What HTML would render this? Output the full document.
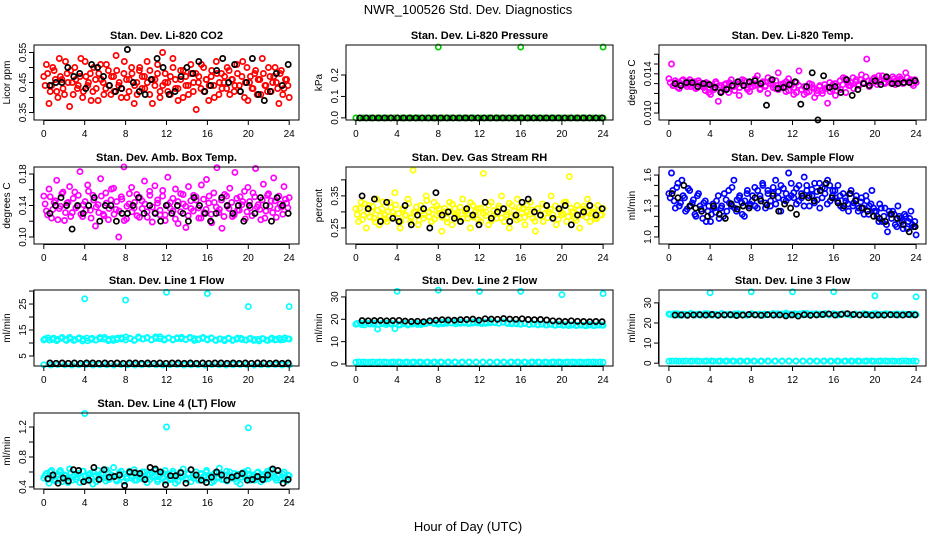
<!DOCTYPE html>
<html><head><meta charset="utf-8"><style>
html,body{margin:0;padding:0;background:#fff;}
svg{display:block;font-family:"Liberation Sans",Arial,sans-serif;}
</style></head><body>
<svg id="chart" width="936" height="540" viewBox="0 0 936 540">
<text x="468" y="14" font-size="13" text-anchor="middle">NWR_100526 Std. Dev. Diagnostics</text>
<text x="468" y="531" font-size="13" text-anchor="middle">Hour of Day (UTC)</text>
</svg>
<script>
// ---- data ----
const xTicks=[0,4,8,12,16,20,24];
const outHours=[4,8,12,16,20,24];

const co2Color=[0.47,0.51,0.38,0.44,0.49,0.42,0.53,0.46,0.41,0.48,0.37,0.45,0.50,0.43,0.47,0.40,0.52,0.44,0.48,0.42,0.46,0.39,0.51,0.45,0.43,0.49,0.41,0.47,0.54,0.44,0.40,0.48,0.46,0.42,0.50,0.38,0.45,0.49,0.43,0.47,0.52,0.41,0.46,0.44,0.48,0.40,0.55,0.45,0.42,0.47,0.50,0.43,0.39,0.46,0.49,0.44,0.41,0.48,0.45,0.36,0.47,0.51,0.42,0.46,0.44,0.49,0.40,0.48,0.45,0.43,0.47,0.50,0.41,0.46,0.44,0.48,0.42,0.52,0.45,0.39,0.47,0.43,0.49,0.46,0.41,0.48,0.44,0.50,0.42,0.47,0.45,0.38,0.49,0.43,0.46,0.40];
const co2ColorB=[0.44,0.48,0.42,0.50,0.46,0.40,0.47,0.43,0.52,0.45,0.49,0.41,0.46,0.44,0.53,0.42,0.47,0.45,0.39,0.50,0.43,0.48,0.46,0.41,0.51,0.44,0.47,0.42,0.49,0.45,0.43,0.52,0.40,0.46,0.48,0.44,0.41,0.50,0.47,0.43,0.45,0.49,0.38,0.46,0.51,0.42,0.44,0.48,0.45,0.41,0.53,0.46,0.43,0.49,0.40,0.47,0.44,0.51,0.42,0.48,0.45,0.43,0.50,0.46,0.39,0.47,0.44,0.52,0.41,0.48,0.45,0.43,0.49,0.46,0.42,0.51,0.44,0.47,0.40,0.50,0.45,0.43,0.48,0.41,0.46,0.53,0.44,0.42,0.47,0.45,0.50,0.43,0.48,0.41,0.46,0.44];
const co2Black=[0.44,0.45,0.45,0.50,0.47,0.48,0.43,0.51,0.50,0.47,0.44,0.42,0.43,0.56,0.45,0.42,0.41,0.46,0.53,0.50,0.41,0.42,0.47,0.50,0.48,0.52,0.42,0.44,0.49,0.53,0.45,0.51,0.42,0.45,0.53,0.41,0.39,0.42,0.48,0.44,0.51];

const presColor=[0,0,0,0,0,0,0,0,0,0,0,0,0,0,0,0,0,0,0,0,0,0,0,0,0,0,0,0,0,0,0,0,0,0,0,0,0,0,0,0,0,0,0,0,0,0,0,0,0,0,0,0,0,0,0,0,0,0,0,0,0,0,0,0,0,0,0,0,0,0,0,0];
const presBlack=[0,0,0,0,0,0,0,0,0,0,0,0,0,0,0,0,0,0,0,0,0,0,0,0,0,0,0,0,0,0,0,0,0,0,0,0,0,0,0,0];
const presOutHours=[8,16,24];
const presOut=[0.33,0.33,0.33];

const tempColor=[0.0135,0.0150,0.0128,0.0131,0.0125,0.0133,0.0130,0.0127,0.0134,0.0129,0.0132,0.0126,0.0131,0.0128,0.0123,0.0130,0.0119,0.0126,0.0132,0.0112,0.0128,0.0124,0.0130,0.0121,0.0134,0.0127,0.0129,0.0118,0.0131,0.0133,0.0126,0.0122,0.0130,0.0128,0.0138,0.0124,0.0131,0.0127,0.0120,0.0133,0.0129,0.0125,0.0141,0.0126,0.0130,0.0122,0.0135,0.0128,0.0119,0.0131,0.0143,0.0124,0.0127,0.0121,0.0130,0.0126,0.0116,0.0123,0.0128,0.0120,0.0125,0.0110,0.0122,0.0129,0.0118,0.0127,0.0124,0.0136,0.0121,0.0128,0.0131,0.0125,0.0134,0.0128,0.0139,0.0130,0.0155,0.0127,0.0133,0.0136,0.0129,0.0132,0.0138,0.0130,0.0134,0.0131,0.0137,0.0129,0.0133,0.0135,0.0130,0.0141,0.0132,0.0134,0.0128,0.0131];
const tempColorB=[0.0131,0.0128,0.0133,0.0126,0.0130,0.0134,0.0129,0.0132,0.0127,0.0131,0.0125,0.0133,0.0129,0.0126,0.0131,0.0121,0.0128,0.0124,0.0130,0.0126,0.0122,0.0129,0.0125,0.0131,0.0127,0.0123,0.0130,0.0126,0.0134,0.0128,0.0124,0.0131,0.0127,0.0135,0.0129,0.0125,0.0132,0.0128,0.0136,0.0130,0.0126,0.0133,0.0124,0.0129,0.0127,0.0132,0.0123,0.0130,0.0126,0.0121,0.0128,0.0124,0.0119,0.0127,0.0122,0.0129,0.0125,0.0120,0.0127,0.0123,0.0129,0.0126,0.0131,0.0124,0.0130,0.0127,0.0133,0.0129,0.0135,0.0131,0.0128,0.0136,0.0132,0.0129,0.0134,0.0131,0.0137,0.0133,0.0130,0.0135,0.0132,0.0138,0.0134,0.0131,0.0136,0.0133,0.0130,0.0135,0.0132,0.0137,0.0134,0.0131,0.0136,0.0133,0.0130,0.0134];
const tempBlack=[0.0130,0.0128,0.0131,0.0131,0.0127,0.0130,0.0129,0.0126,0.0121,0.0124,0.0128,0.0132,0.0128,0.0132,0.0133,0.0130,0.0108,0.0134,0.0125,0.0126,0.0129,0.0132,0.0109,0.0127,0.0141,0.0093,0.0138,0.0126,0.0127,0.0121,0.0134,0.0118,0.0124,0.0130,0.0128,0.0133,0.0129,0.0137,0.0130,0.0130,0.0131,0.0131,0.0133];

const ambColor=[0.152,0.133,0.161,0.124,0.144,0.172,0.136,0.155,0.121,0.143,0.164,0.131,0.157,0.139,0.183,0.126,0.145,0.166,0.134,0.153,0.114,0.141,0.174,0.129,0.156,0.122,0.147,0.162,0.135,0.100,0.151,0.189,0.123,0.142,0.163,0.137,0.154,0.125,0.146,0.171,0.132,0.158,0.119,0.165,0.143,0.128,0.152,0.121,0.176,0.144,0.133,0.161,0.117,0.155,0.142,0.112,0.164,0.136,0.153,0.147,0.124,0.166,0.131,0.173,0.152,0.118,0.144,0.188,0.135,0.111,0.154,0.139,0.162,0.126,0.182,0.134,0.151,0.145,0.123,0.163,0.137,0.156,0.187,0.141,0.122,0.167,0.133,0.155,0.146,0.175,0.125,0.152,0.138,0.164,0.143,0.150];
const ambColorB=[0.142,0.128,0.151,0.135,0.146,0.122,0.139,0.157,0.131,0.144,0.126,0.149,0.137,0.153,0.129,0.141,0.134,0.158,0.124,0.147,0.138,0.131,0.152,0.127,0.143,0.136,0.161,0.129,0.145,0.133,0.148,0.121,0.139,0.155,0.132,0.144,0.127,0.150,0.136,0.142,0.125,0.153,0.138,0.131,0.147,0.134,0.159,0.128,0.141,0.136,0.149,0.123,0.145,0.132,0.154,0.139,0.127,0.146,0.133,0.151,0.137,0.124,0.148,0.135,0.143,0.129,0.156,0.138,0.131,0.147,0.126,0.152,0.136,0.144,0.128,0.149,0.134,0.141,0.158,0.132,0.145,0.127,0.151,0.138,0.135,0.147,0.124,0.153,0.139,0.131,0.146,0.136,0.142,0.129,0.148,0.137];
const ambBlack=[0.13,0.14,0.15,0.14,0.11,0.14,0.13,0.14,0.15,0.12,0.14,0.14,0.12,0.13,0.13,0.14,0.15,0.13,0.14,0.13,0.12,0.14,0.13,0.14,0.13,0.12,0.15,0.14,0.13,0.12,0.13,0.15,0.14,0.13,0.14,0.12,0.14,0.13,0.15,0.14,0.12,0.15,0.14,0.13];

const rhColor=[0.31,0.27,0.33,0.29,0.25,0.32,0.30,0.28,0.34,0.26,0.31,0.29,0.27,0.33,0.30,0.36,0.28,0.25,0.31,0.29,0.34,0.27,0.43,0.30,0.26,0.32,0.28,0.35,0.30,0.27,0.33,0.29,0.31,0.24,0.30,0.28,0.33,0.26,0.31,0.29,0.27,0.34,0.30,0.28,0.25,0.32,0.29,0.31,0.27,0.42,0.30,0.26,0.33,0.29,0.28,0.31,0.35,0.27,0.30,0.25,0.32,0.29,0.34,0.28,0.31,0.26,0.30,0.33,0.28,0.24,0.31,0.29,0.27,0.32,0.30,0.35,0.28,0.26,0.31,0.29,0.33,0.27,0.41,0.30,0.28,0.32,0.25,0.29,0.31,0.34,0.27,0.30,0.28,0.32,0.29,0.31];
const rhColorB=[0.292,0.311,0.276,0.325,0.298,0.284,0.317,0.269,0.305,0.288,0.331,0.279,0.301,0.314,0.286,0.322,0.295,0.271,0.308,0.289,0.326,0.281,0.299,0.315,0.274,0.303,0.292,0.336,0.285,0.307,0.278,0.319,0.296,0.283,0.311,0.268,0.302,0.324,0.287,0.298,0.315,0.279,0.306,0.293,0.329,0.284,0.301,0.276,0.312,0.295,0.288,0.321,0.272,0.304,0.297,0.318,0.281,0.309,0.291,0.327,0.286,0.302,0.275,0.314,0.298,0.283,0.322,0.293,0.306,0.271,0.311,0.289,0.325,0.296,0.282,0.308,0.291,0.319,0.277,0.303,0.294,0.331,0.285,0.312,0.299,0.274,0.307,0.292,0.318,0.283,0.301,0.295,0.313,0.279,0.306,0.291];
const rhBlack=[0.35,0.31,0.34,0.27,0.33,0.28,0.27,0.32,0.26,0.29,0.31,0.25,0.36,0.29,0.30,0.28,0.27,0.31,0.29,0.26,0.33,0.28,0.30,0.31,0.27,0.29,0.33,0.34,0.30,0.29,0.32,0.28,0.31,0.32,0.26,0.29,0.30,0.32,0.29,0.31];

const flowColor=[1.42,1.62,1.35,1.48,1.30,1.55,1.38,1.27,1.45,1.33,1.22,1.40,1.30,1.18,1.35,1.25,1.15,1.32,1.24,1.40,1.28,1.20,1.36,1.45,1.30,1.55,1.25,1.38,1.33,1.20,1.42,1.30,1.35,1.48,1.28,1.40,1.52,1.33,1.45,1.30,1.42,1.55,1.38,1.25,1.47,1.35,1.62,1.40,1.43,1.32,1.50,1.38,1.58,1.45,1.30,1.40,1.52,1.36,1.28,1.48,1.42,1.55,1.35,1.45,1.38,1.50,1.30,1.42,1.35,1.25,1.45,1.33,1.40,1.28,1.38,1.22,1.35,1.30,1.45,1.25,1.20,1.32,1.15,1.28,1.05,1.22,1.25,1.12,1.30,1.18,1.08,1.20,1.15,1.25,1.10,1.02];
const flowColorB=[1.38,1.45,1.28,1.52,1.33,1.40,1.25,1.47,1.30,1.36,1.20,1.42,1.27,1.33,1.15,1.30,1.22,1.28,1.35,1.18,1.30,1.42,1.25,1.33,1.48,1.28,1.36,1.40,1.22,1.35,1.45,1.32,1.40,1.30,1.45,1.37,1.50,1.28,1.42,1.35,1.48,1.32,1.44,1.50,1.36,1.42,1.38,1.52,1.38,1.47,1.35,1.42,1.30,1.50,1.40,1.46,1.33,1.44,1.52,1.38,1.47,1.32,1.50,1.40,1.45,1.35,1.40,1.28,1.38,1.32,1.42,1.30,1.36,1.25,1.34,1.28,1.40,1.22,1.32,1.28,1.25,1.15,1.28,1.20,1.12,1.25,1.18,1.22,1.10,1.20,1.15,1.22,1.08,1.18,1.12,1.15];
const flowBlack=[1.42,1.38,1.50,1.30,1.28,1.25,1.20,1.30,1.22,1.18,1.32,1.27,1.30,1.28,1.38,1.35,1.31,1.40,1.25,1.32,1.28,1.22,1.40,1.38,1.35,1.45,1.52,1.38,1.33,1.30,1.42,1.35,1.28,1.25,1.20,1.18,1.15,1.22,1.18,1.12,1.05,1.10];

const l1Band=[11.2,12.0,11.4,10.9,11.8,11.3,12.2,11.0,11.6,10.8,11.9,11.4,11.1,12.1,11.5,10.9,11.7,11.3,12.0,11.2,11.8,11.0,12.3,11.5,11.9,11.2,12.4,11.6,11.1,12.0,11.4,11.7,12.2,11.3,11.9,11.0,11.6,12.1,11.2,11.8,11.0,11.5,10.9,11.7,11.2,11.9,11.4,11.1,11.8,11.3,10.8,11.6,11.0,11.9,11.4,11.2,12.0,11.5];
const l1BandB=[11.6,11.1,11.9,11.4,12.1,11.0,11.7,11.3,12.0,11.5,10.9,11.8,11.2,11.6,12.2,11.4,11.0,11.9,11.5,12.3,11.7,11.2,11.9,11.6,12.1,11.3,11.8,12.4,11.5,11.9,11.2,12.0,11.6,11.4,12.2,11.7,11.3,11.8,11.5,12.0,11.1,11.6,11.3,11.9,11.0,11.5,11.8,11.2,11.6,11.0,11.4,11.7,11.1,11.5,11.2,11.8,11.3,11.6];
const l1Low=[1.6,1.5,1.7,1.6,1.5,1.6,1.7,1.5,1.6,1.6,1.5,1.7,1.6,1.5,1.6,1.7,1.6,1.5,1.6,1.7,1.5,1.6,1.6,1.5,1.7,1.6,1.5,1.6,1.7,1.6,1.5,1.6,1.6,1.7,1.5,1.6];
const l1Black=[2.3,2.2,2.3,2.2,2.3,2.2,2.3,2.3,2.2,2.3,2.2,2.3,2.2,2.3,2.3,2.2,2.3,2.2,2.3,2.2,2.3,2.3,2.2,2.3,2.2,2.3,2.2,2.3,2.3,2.2,2.3,2.2,2.3,2.2,2.3,2.3,2.2,2.3,2.2,2.3];
const l1Out=[27.0,26.5,29.5,29.0,24.0,24.0];

const l2Band=[17.8,18.4,17.5,18.1,17.9,15.6,18.2,17.6,18.3,15.8,17.7,18.0,17.4,17.9,18.2,17.6,18.0,18.5,18.1,17.8,18.6,18.2,18.4,18.0,18.7,18.3,18.1,18.8,18.4,18.6,18.2,18.9,18.5,18.3,18.7,18.1,18.4,18.0,17.8,18.2,17.6,17.9,17.5,17.8,17.4,17.7,17.3,17.6,17.5,17.2,17.6,17.3,17.4,17.1,17.5,17.2,17.4,17.3];
const l2BandB=[18.2,17.6,18.5,17.9,18.3,17.7,18.0,18.4,17.8,18.1,17.5,18.3,17.9,18.2,17.7,18.4,18.1,18.7,18.3,18.6,18.0,18.8,18.4,18.9,18.2,18.6,18.5,18.3,18.9,18.1,18.7,18.4,18.6,18.2,18.8,18.5,18.0,18.3,17.9,18.1,17.7,18.0,17.6,17.9,17.5,17.8,17.4,17.7,17.3,17.6,17.4,17.2,17.5,17.3,17.6,17.2,17.5,17.4];
const l2Low=[0.8,0.9,0.8,0.8,0.9,0.8,0.9,0.8,0.8,0.9,0.8,0.8,0.9,0.8,0.9,0.8,0.8,0.9,0.8,0.8,0.9,0.8,0.9,0.8,0.8,0.9,0.8,0.8,0.9,0.8,0.9,0.8,0.8,0.9,0.8,0.8];
const l2LowB=[0.9,0.8,0.9,0.9,0.8,0.9,0.8,0.9,0.9,0.8,0.9,0.9,0.8,0.9,0.8,0.9,0.9,0.8,0.9,0.9,0.8,0.9,0.8,0.9,0.9,0.8,0.9,0.9,0.8,0.9,0.8,0.9,0.9,0.8,0.9,0.9];
const l2Black=[19.4,19.3,19.4,19.5,19.3,19.4,19.5,19.2,19.0,19.1,18.9,19.3,19.6,19.8,19.7,19.6,19.8,19.9,20.1,19.6,20.2,20.1,20.0,20.3,20.1,20.0,20.2,19.9,19.8,19.9,19.7,19.3,19.2,19.0,19.3,19.1,19.0,18.9,19.0,18.9];
const l2Out=[32.5,33.0,32.5,32.5,31.0,31.5];

const l3Band=[24.5,24.0,24.6,23.8,24.3,24.7,23.9,24.4,24.1,24.6,23.8,24.2,24.5,23.9,24.4,24.0,24.6,24.2,23.8,24.5,24.1,24.4,23.9,24.3,24.7,24.0,24.5,24.2,23.9,24.6,24.3,24.8,24.1,24.5,24.0,24.4,24.7,24.2,24.5,24.0,24.6,24.3,23.9,24.4,24.1,24.6,24.2,24.5,23.9,24.3,24.6,24.1,24.4,24.0,24.5,24.2,24.4,24.1];
const l3BandB=[24.2,24.6,23.9,24.4,24.0,24.5,24.3,23.8,24.6,24.1,24.4,24.0,24.7,24.2,23.9,24.5,24.1,24.4,24.0,24.6,24.3,23.8,24.5,24.2,24.0,24.6,24.3,24.9,24.4,24.1,24.5,24.0,24.7,24.3,24.6,24.1,24.4,24.0,24.6,24.3,24.2,24.5,24.1,24.4,24.0,24.5,24.3,24.1,24.6,24.2,24.0,24.4,24.2,24.5,24.1,24.3,24.0,24.4];
const l3Low=[1.0,1.1,1.0,1.0,1.1,1.0,1.1,1.0,1.0,1.1,1.0,1.0,1.1,1.0,1.1,1.0,1.0,1.1,1.0,1.0,1.1,1.0,1.1,1.0,1.0,1.1,1.0,1.0,1.1,1.0,1.1,1.0,1.0,1.1,1.0,1.0];
const l3LowB=[1.1,1.0,1.1,1.1,1.0,1.1,1.0,1.1,1.1,1.0,1.1,1.1,1.0,1.1,1.0,1.1,1.1,1.0,1.1,1.1,1.0,1.1,1.0,1.1,1.1,1.0,1.1,1.1,1.0,1.1,1.0,1.1,1.1,1.0,1.1,1.1];
const l3Black=[23.9,24.0,23.8,24.0,24.1,23.9,24.2,23.8,24.0,24.1,23.7,23.9,24.2,24.0,23.8,24.1,23.9,24.0,23.5,24.0,23.4,24.1,23.8,24.0,24.2,24.5,23.9,24.3,24.6,24.2,24.0,24.1,23.8,24.0,23.9,24.1,24.0,23.9,24.2,24.0];
const l3Out=[35.0,35.5,35.5,35.5,33.5,33.0];

const l4Color=[0.52,0.58,0.45,0.62,0.50,0.55,0.60,0.47,0.56,0.52,0.64,0.49,0.57,0.53,0.46,0.61,0.54,0.50,0.58,0.44,0.55,0.62,0.51,0.57,0.48,0.59,0.53,0.66,0.50,0.56,0.61,0.47,0.54,0.58,0.52,0.63,0.49,0.56,0.51,0.60,0.46,0.57,0.53,0.62,0.50,0.55,0.59,0.48,0.57,0.52,0.61,0.45,0.56,0.53,0.64,0.50,0.58,0.47,0.55,0.60,0.51,0.57,0.49,0.62,0.53,0.46,0.58,0.52,0.65,0.50,0.56,0.48,0.60,0.54,0.51,0.57,0.44,0.59,0.53,0.62,0.49,0.56,0.52,0.60,0.47,0.55,0.58,0.51,0.63,0.54,0.49,0.57,0.52,0.60,0.48,0.55];
const l4ColorB=[0.55,0.50,0.60,0.53,0.48,0.57,0.62,0.51,0.55,0.46,0.59,0.54,0.50,0.58,0.52,0.61,0.49,0.56,0.53,0.60,0.47,0.55,0.58,0.52,0.63,0.50,0.56,0.54,0.48,0.59,0.53,0.57,0.51,0.61,0.55,0.49,0.58,0.53,0.60,0.52,0.56,0.50,0.59,0.54,0.47,0.57,0.52,0.62,0.55,0.50,0.58,0.53,0.48,0.60,0.54,0.51,0.57,0.63,0.52,0.56,0.49,0.58,0.54,0.60,0.51,0.55,0.48,0.59,0.53,0.57,0.50,0.61,0.55,0.52,0.58,0.47,0.56,0.53,0.60,0.51,0.57,0.54,0.49,0.59,0.52,0.56,0.50,0.61,0.54,0.58,0.52,0.55,0.49,0.57,0.53,0.56];
const l4Out=[1.38,1.2,1.19];
const l4OutHours=[4,12,20];
const l4Black=[0.51,0.56,0.45,0.52,0.48,0.63,0.62,0.47,0.49,0.66,0.50,0.63,0.53,0.54,0.56,0.42,0.60,0.59,0.58,0.50,0.66,0.64,0.60,0.43,0.55,0.55,0.59,0.45,0.63,0.56,0.49,0.46,0.53,0.60,0.56,0.49,0.53,0.55,0.58,0.49,0.50,0.54,0.50,0.56,0.64,0.62,0.45,0.50];

// ---- layout ----
const svg=document.getElementById('chart');
const NS='http://www.w3.org/2000/svg';
const colLeft=[34,346,659], colW=[265,267,267];
const rowTop=[45,167,290,413], rowH=[75,77,76,76];

function mk(tag,attrs,parent){const e=document.createElementNS(NS,tag);for(const k in attrs)e.setAttribute(k,attrs[k]);(parent||svg).appendChild(e);return e;}

function seriesHours(n,a,b){const h=[];for(let i=0;i<n;i++)h.push(a+i*(b-a)/(n-1));return h;}

function panel(name,c,r,title,ylab,ylim,yt,ylabels,series){
  const L=colLeft[c],T=rowTop[r],W=colW[c],H=rowH[r];
  const g=mk('g',{});
  
  
  const xs=h=>L+W*(h+0.96)/25.92;
  const ys=v=>T+H-H*(v-ylim[0])/(ylim[1]-ylim[0]);
  const t=mk('text',{x:L+W/2,y:T-6,'font-size':11,'font-weight':'bold','text-anchor':'middle'},g);t.textContent=title;
  
  
  const pts=mk('g',{fill:'none','stroke-width':1.7},g);
  
  
  series.forEach(s=>{
    const hrs=s.hours||seriesHours(s.vals.length,s.h0,s.h1);
    s.vals.forEach((v,i)=>{
      const p=mk('circle',{cx:xs(hrs[i]).toFixed(1),cy:ys(v).toFixed(1),r:2.6,stroke:s.color},pts);
      
      
    });
  });
  const box=mk('rect',{x:L,y:T,width:W,height:H,fill:'none',stroke:'#000','stroke-width':1},g);
  
  
  const xa=mk('g',{},g);
  
  
  mk('line',{x1:xs(0),x2:xs(24),y1:T+H+0.5,y2:T+H+0.5,stroke:'#000'},xa);
  xTicks.forEach(v=>{
    const x=xs(v);
    mk('line',{x1:x,x2:x,y1:T+H,y2:T+H+5,stroke:'#000'},xa);
    const tl=mk('text',{x:x,y:T+H+17,'font-size':10,'text-anchor':'middle'},xa);tl.textContent=v;
  });
  const ya=mk('g',{},g);
  
  
  mk('line',{x1:L-0.5,x2:L-0.5,y1:ys(yt[0]),y2:ys(yt[yt.length-1]),stroke:'#000'},ya);
  yt.forEach((v,i)=>{
    const y=ys(v);
    mk('line',{x1:L-5,x2:L,y1:y,y2:y,stroke:'#000'},ya);
    if(ylabels[i]!==''){const tl=mk('text',{x:L-8,y:y,'font-size':10,'text-anchor':'middle',transform:`rotate(-90 ${L-8} ${y})`},ya);tl.textContent=ylabels[i];}
  });
  const yl=mk('text',{x:L-24,y:T+H/2,'font-size':10,'text-anchor':'middle',transform:`rotate(-90 ${L-24} ${T+H/2})`},g);yl.textContent=ylab;
  
  
}

const A0=0,A1=24,B0=0.125,B1=23.875;
panel('co2',0,0,'Stan. Dev. Li-820 CO2','Licor ppm',[0.325,0.575],[0.35,0.40,0.45,0.50,0.55],['0.35','','0.45','','0.55'],
  [{vals:co2Color,h0:A0,h1:A1,color:'#ff0000'},{vals:co2ColorB,h0:B0,h1:B1,color:'#ff0000'},{vals:co2Black,h0:0.6,h1:23.9,color:'#000'}]);
panel('pressure',1,0,'Stan. Dev. Li-820 Pressure','kPa',[-0.01,0.34],[0,0.1,0.2],['0.0','0.1','0.2'],
  [{vals:presColor,h0:A0,h1:A1,color:'#00cc00'},{vals:presOut,hours:presOutHours,color:'#00cc00'},{vals:presBlack,h0:0.4,h1:23.9,color:'#000'}]);
panel('temp',2,0,'Stan. Dev. Li-820 Temp.','degrees C',[0.00929,0.01694],[0.010,0.011,0.012,0.013,0.014,0.015,0.016],['0.010','','','','0.014','',''],
  [{vals:tempColor,h0:A0,h1:A1,color:'#ff00ff'},{vals:tempColorB,h0:B0,h1:B1,color:'#ff00ff'},{vals:tempBlack,h0:0.6,h1:23.9,color:'#000'}]);
panel('amb-box-temp',0,1,'Stan. Dev. Amb. Box Temp.','degrees C',[0.0911,0.1889],[0.10,0.12,0.14,0.16,0.18],['0.10','','0.14','','0.18'],
  [{vals:ambColor,h0:A0,h1:A1,color:'#ff00ff'},{vals:ambColorB,h0:B0,h1:B1,color:'#ff00ff'},{vals:ambBlack,h0:0.6,h1:23.9,color:'#000'}]);
panel('gas-rh',1,1,'Stan. Dev. Gas Stream RH','percent',[0.2,0.44],[0.25,0.30,0.35,0.40],['0.25','','0.35',''],
  [{vals:rhColor,h0:A0,h1:A1,color:'#ffff00'},{vals:rhColorB,h0:B0,h1:B1,color:'#ffff00'},{vals:rhBlack,h0:0.6,h1:23.9,color:'#000'}]);
panel('sample-flow',2,1,'Stan. Dev. Sample Flow','ml/min',[0.932,1.678],[1.0,1.1,1.2,1.3,1.4,1.5,1.6],['1.0','','','1.3','','','1.6'],
  [{vals:flowColor,h0:A0,h1:A1,color:'#0000ff'},{vals:flowColorB,h0:B0,h1:B1,color:'#0000ff'},{vals:flowBlack,h0:0.3,h1:23.9,color:'#000'}]);
panel('line1-flow',0,2,'Stan. Dev. Line 1 Flow','ml/min',[1.15,30.4],[5,10,15,20,25,30],['5','','15','','25',''],
  [{vals:l1Band,h0:A0,h1:A1,color:'#00ffff'},{vals:l1BandB,h0:B0,h1:B1,color:'#00ffff'},{vals:l1Low,h0:A0,h1:A1,color:'#00ffff'},{vals:l1Out,hours:outHours,color:'#00ffff'},{vals:l1Black,h0:0.6,h1:23.9,color:'#000'}]);
panel('line2-flow',1,2,'Stan. Dev. Line 2 Flow','ml/min',[-0.9,33.1],[0,10,20,30],['0','10','20','30'],
  [{vals:l2Band,h0:A0,h1:A1,color:'#00ffff'},{vals:l2BandB,h0:B0,h1:B1,color:'#00ffff'},{vals:l2Low,h0:A0,h1:A1,color:'#00ffff'},{vals:l2LowB,h0:0.3,h1:23.7,color:'#00ffff'},{vals:l2Out,hours:outHours,color:'#00ffff'},{vals:l2Black,h0:0.6,h1:23.9,color:'#000'}]);
panel('line3-flow',2,2,'Stan. Dev. Line 3 Flow','ml/min',[-1.4,36.4],[0,10,20,30],['0','10','20','30'],
  [{vals:l3Band,h0:A0,h1:A1,color:'#00ffff'},{vals:l3BandB,h0:B0,h1:B1,color:'#00ffff'},{vals:l3Low,h0:A0,h1:A1,color:'#00ffff'},{vals:l3LowB,h0:0.3,h1:23.7,color:'#00ffff'},{vals:l3Out,hours:outHours,color:'#00ffff'},{vals:l3Black,h0:0.6,h1:23.9,color:'#000'}]);
panel('line4-flow',0,3,'Stan. Dev. Line 4 (LT) Flow','ml/min',[0.373,1.387],[0.4,0.6,0.8,1.0,1.2],['0.4','','0.8','','1.2'],
  [{vals:l4Color,h0:A0,h1:A1,color:'#00ffff'},{vals:l4ColorB,h0:B0,h1:B1,color:'#00ffff'},{vals:l4Out,hours:l4OutHours,color:'#00ffff'},{vals:l4Black,h0:0.4,h1:23.9,color:'#000'}]);
</script>
</body></html>
